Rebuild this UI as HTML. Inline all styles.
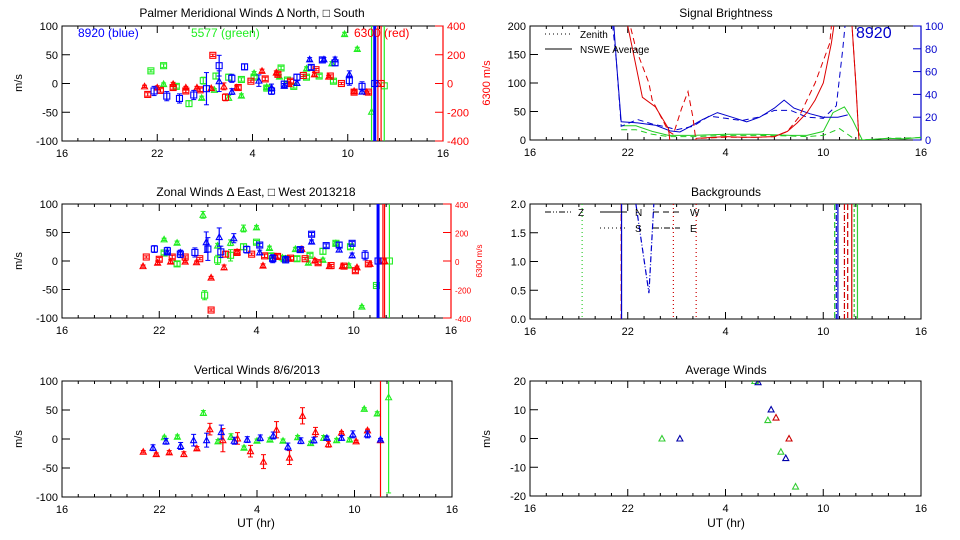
<!DOCTYPE html>
<html><head><meta charset="utf-8"><style>
html,body{margin:0;padding:0;background:#fff;width:960px;height:540px;overflow:hidden;}
svg{display:block;font-family:"Liberation Sans",sans-serif;}
</style></head><body>
<svg id="chart" width="960" height="540" viewBox="0 0 960 540" xmlns="http://www.w3.org/2000/svg"></svg>
<script>
// ---------- DATA (hours 16..40, 24+ = next day UT) ----------
const xTickLabels = ["16","22","4","10","16"];
const xTickHours = [16,22,28,34,40];

// Meridional winds [hour, value, err]
const merBlueSq = [[21.8,-13,8],[22.6,-22,8],[23.4,-26,8],[24.3,-20,8],[25.1,-9,28],[25.9,31,18],[26.7,9,7],[27.5,29,5],[29.2,-13,6],[30.0,-1,5],[30.8,11,5],[31.7,28,4],[32.4,41,3],[33.2,36,5],[34.1,5,8],[34.9,-5,8],[35.7,0,500]];
const merBlueTri = [[25.9,4,18],[26.7,-14,5],[28.4,5,10],[29.2,-7,6],[30.0,-4,4],[30.8,1,4],[31.6,42,3],[32.5,42,3],[33.2,42,4],[34.1,16,6],[34.9,-14,4]];
const merRedSq = [[21.4,-19,3],[22.2,-12,3],[23.0,-7,3],[23.8,-13,3],[24.7,-11,3],[25.5,49,2],[26.3,-24,6],[27.1,-7,3],[27.9,4,2],[28.8,8,3],[29.6,16,3],[30.4,4,3],[31.2,14,2],[32.0,24,2],[32.9,13,2],[33.6,0,2],[34.4,-15,3],[35.3,-15,2],[36.1,0,500]];
const merRedTri = [[21.2,-5,2],[22.0,-7,3],[23.0,-1,3],[23.8,-7,2],[24.5,-7,2],[25.4,-8,2],[26.2,-5,6],[27.0,-7,3],[28.6,22,3],[29.5,19,3],[30.3,-1,3],[31.9,16,3],[32.8,12,2],[34.4,-13,2],[35.2,-15,2],[35.9,0,500]];
const merGreenSq = [[21.6,22,2],[22.4,31,3],[23.2,-5,3],[24.0,-35,5],[24.9,5,6],[25.7,13,5],[26.5,11,5],[27.3,7,3],[28.1,11,3],[28.9,-8,3],[29.8,27,3],[30.2,6,3],[30.6,-5,3],[31.4,11,3],[32.2,13,3],[33.1,4,3],[36.3,-4,500]];
const merGreenTri = [[22.4,-1,2],[24.8,-25,3],[25.6,-11,2],[26.5,-25,4],[27.3,-21,3],[28.1,18,3],[28.9,-6,3],[29.7,12,3],[31.4,26,3],[33.0,35,3],[33.8,86,3],[34.6,60,3],[35.5,-49,500]];

// Zonal winds
const zonBlueSq = [[21.7,21,6],[22.5,18,6],[23.3,12,6],[24.2,15,8],[25.0,21,20],[25.8,16,10],[27.4,20,6],[28.2,28,3],[29.0,4,7],[29.8,2,5],[30.7,20,5],[31.4,47,3],[32.3,27,3],[33.1,28,5],[33.9,31,3],[34.7,10,8],[35.5,0,500]];
const zonBlueTri = [[22.5,15,4],[23.3,15,4],[24.9,33,18],[25.7,42,16],[26.6,40,8],[28.2,15,4],[29.0,5,5],[29.8,4,4],[30.7,20,4],[31.4,34,3],[33.1,20,4],[33.9,10,4]];
const zonRedSq = [[21.2,7,2],[22.0,3,3],[22.8,7,3],[23.6,7,2],[24.5,4,2],[25.2,-86,2],[26.1,12,5],[26.8,15,3],[27.7,12,2],[28.5,9,3],[29.3,8,3],[30.1,5,3],[31.0,4,2],[31.8,-3,3],[32.6,-8,2],[33.4,-9,3],[34.1,-17,3],[34.9,-5,2],[35.8,0,500]];
const zonRedTri = [[21.0,-9,2],[21.9,-3,3],[22.7,-1,3],[23.6,-1,2],[24.3,-2,2],[25.2,-29,2],[26.0,-11,4],[26.8,16,3],[28.4,-8,3],[29.2,8,3],[30.0,4,3],[30.8,21,3],[31.6,1,3],[32.5,-9,2],[33.3,-9,2],[34.2,-11,2],[35.0,-5,2],[35.9,0,500]];
const zonGreenSq = [[22.3,14,3],[23.1,-5,4],[24.8,-60,8],[25.6,2,8],[26.4,10,10],[27.2,25,5],[28.0,33,3],[28.9,9,4],[29.7,4,4],[30.5,4,4],[31.3,10,3],[32.1,17,5],[32.9,31,3],[33.8,25,4],[35.4,-43,2],[36.2,0,500]];
const zonGreenTri = [[22.3,38,2],[23.1,32,3],[24.7,81,6],[25.6,27,4],[26.4,32,5],[27.2,57,6],[28.0,59,3],[28.8,23,3],[29.6,6,3],[30.4,21,3],[31.2,-3,3],[32.1,2,3],[32.9,31,3],[33.7,-8,3],[34.5,-80,2]];

// Vertical winds
const verRedTri = [[21.0,-22,2],[21.8,-26,2],[22.6,-23,3],[23.5,-26,4],[24.3,-16,3],[25.1,17,10],[25.9,-2,20],[26.8,1,10],[27.6,-21,10],[28.4,-39,12],[29.2,16,14],[30.0,-32,12],[30.8,40,14],[31.6,12,8],[32.4,-9,5],[33.2,11,2],[34.1,-4,2],[34.8,15,2],[35.6,-2,500]];
const verBlueTri = [[21.6,-15,5],[22.4,-4,5],[23.3,-12,6],[24.1,-2,10],[24.9,-2,12],[25.8,12,12],[26.6,-3,6],[27.4,-1,5],[28.2,2,5],[29.0,6,6],[29.9,-13,6],[30.7,-3,5],[31.5,-2,5],[32.3,2,3],[33.2,2,4],[33.9,8,6],[34.8,8,6],[35.6,-1,2]];
const verGreenTri = [[22.3,3,2],[23.1,4,3],[24.7,45,4],[25.6,-4,3],[26.4,4,5],[27.2,-15,3],[28.0,-3,3],[28.8,-1,3],[29.6,-3,3],[30.5,3,3],[31.3,-7,3],[32.1,2,4],[32.9,-2,3],[33.7,-1,3],[34.6,52,2],[35.4,44,3],[36.1,72,165]];

// Average winds [hour, value]
const avgGreen = [[24.1,0],[29.8,20],[30.6,6.4],[31.4,-4.6],[32.3,-16.7]];
const avgBlue = [[25.2,0],[30.0,19.6],[30.8,10.1],[31.7,-6.8]];
const avgRed = [[31.1,7.3],[31.9,0]];

// Signal brightness [hour, value]
const sigRedSolid = [[21.9,230],[22.0,200],[22.9,75],[23.7,58],[24.5,20],[24.6,-5],[26.1,-5],[26.2,3],[28,6],[29,5],[30,5],[31,6],[31.8,15],[32.4,30],[33,48],[33.5,70],[34,100],[34.5,170],[34.8,230],[35.7,230],[36.0,100],[36.2,-5]];
const sigRedDash = [[21.9,230],[22.5,160],[23.3,100],[23.5,70],[24.5,15],[24.8,10],[25.3,55],[25.7,85],[26.0,40],[26.2,-5],[26.4,3],[28,5],[30,5],[31,6],[31.8,15],[32.5,40],[33.5,100],[34.4,170],[34.6,230],[35.7,230],[36.0,100],[36.2,-5]];
const sigBlueSolid = [[21.1,110],[21.3,70],[21.6,16],[22.6,15],[23.7,13],[24.6,8],[25.2,7],[25.6,10],[26.6,18],[27.5,24],[28.4,20],[29.3,16],[30.1,20],[31.0,28],[31.6,35],[32.2,28],[33.2,23],[34.0,20],[34.9,20],[35.5,22]];
const sigBlueDash = [[21.0,110],[21.3,70],[21.6,12],[22.6,18],[23.5,14],[24.5,11],[25.0,9],[26.0,12],[27.0,21],[28.0,19],[29.0,17],[30.0,20],[31.0,26],[32.0,26],[33.0,20],[34.0,19],[34.8,30],[35.2,80],[35.4,110]];
const sigGreenSolid = [[21.6,25],[22.5,25],[23.5,15],[24.5,8],[26,8],[28,10],[30,10],[32,8],[33,8],[34,15],[34.6,48],[35.3,58],[35.8,35],[36.4,0],[37,1],[38,3],[39,2],[40,5]];
const sigGreenDash = [[21.6,18],[22.5,18],[23.5,10],[24.5,6],[26,6],[28,8],[30,8],[32,7],[33,6],[34,8],[35,20],[35.4,12],[36,0],[37,1],[38,3],[40,4]];

// Backgrounds: vertical lines
const bgHours = [19.2,21.6,21.62,24.8,26.2,34.7,34.8,34.9,35.3,35.5,35.75,35.9,36.1];
const bgColors = ["#33cc33","#cc0000","#0000cc","#cc0000","#cc0000","#33cc33","#0000cc","#0000cc","#cc0000","#cc0000","#cc0000","#33cc33","#33cc33"];
const bgDash = ["1,3","7,3","","1,3","1,3","6,3","6,2,1,2","","6,2,1,2","6,3","","3,2","" ];
const bgVHours = [22.5,23.3,23.6];
const bgVValues = [2.0,0.45,2.0];

// ---------- RENDER ----------
const NS="http://www.w3.org/2000/svg";
const svg=document.getElementById('chart');
function el(tag,attrs,parent){const e=document.createElementNS(NS,tag);for(const k in attrs)e.setAttribute(k,attrs[k]);(parent||svg).appendChild(e);return e;}
function txt(s,x,y,attrs,parent){const t=el('text',Object.assign({x:x,y:y,'font-size':11,fill:'#000'},attrs),parent);t.textContent=s;return t;}
function clampY(p,y){return Math.max(p.T,Math.min(p.B,y));}

function panel(name,L,R,T,B,ymin,ymax,yticks,ylabels,clipId){
  const g=el('g',{});
  
  
  const xs=h=>L+(h-16)/24*(R-L);
  const ys=v=>B-(v-ymin)/(ymax-ymin)*(B-T);
  const cp=el('clipPath',{id:clipId},g);el('rect',{x:L,y:T,width:R-L,height:B-T},cp);
  const box=el('rect',{x:L,y:T,width:R-L,height:B-T,fill:'none',stroke:'#000','stroke-width':1},g);
  
  
  for(let h=16;h<=40;h++){
    const major=xTickHours.indexOf(h)>=0;const len=major?7:3;const x=xs(h);
    el('line',{x1:x,y1:B,x2:x,y2:B-len,stroke:'#000'},g);
    el('line',{x1:x,y1:T,x2:x,y2:T+len,stroke:'#000'},g);
  }
  xTickHours.forEach((h,i)=>{const t=txt(xTickLabels[i],xs(h),B+16,{'text-anchor':'middle'},g);
    
    });
  yticks.forEach((v,i)=>{const y=ys(v);el('line',{x1:L,y1:y,x2:L+8,y2:y,stroke:'#000'},g);
    const t=txt(ylabels[i],L-4,y+4,{'text-anchor':'end'},g);
    
    });
  return {g,xs,ys,L,R,T,B,clip:'url(#'+clipId+')'};
}
function rightAxis(p,vals,labels,color,fs,vmin,vmax){
  const ys=v=>p.B-(v-vmin)/(vmax-vmin)*(p.B-p.T);
  el('line',{x1:p.R,y1:p.T,x2:p.R,y2:p.B,stroke:color,'stroke-width':1.2},p.g);
  vals.forEach((v,i)=>{const y=ys(v);el('line',{x1:p.R,y1:y,x2:p.R-8,y2:y,stroke:color},p.g);
    const t=txt(labels[i],p.R+4,y+4,{fill:color,'font-size':fs},p.g);
    
    });
}
function marker(p,h,v,shape,color,g){
  const x=p.xs(h),y=p.ys(v);
  if(shape==='tri') el('polygon',{points:`${x-3},${y+2.5} ${x+3},${y+2.5} ${x},${y-3}`,fill:'none',stroke:color,'stroke-width':1.1},g);
  else el('rect',{x:x-3,y:y-3,width:6,height:6,fill:'none',stroke:color,'stroke-width':1.1},g);
}
function series(p,data,shape,color,name){
  const g=el('g',{'clip-path':p.clip},p.g);
  
  
  data.forEach(d=>{
    const x=p.xs(d[0]);
    if(d[2]!==undefined){
      const y1r=p.ys(d[1]+d[2]),y2r=p.ys(d[1]-d[2]);
      const y1=clampY(p,y1r),y2=clampY(p,y2r);const big=d[2]>=200;
      el('line',{x1:x,y1:y1,x2:x,y2:y2,stroke:color,'stroke-width':big&&color==='#0000ff'?3:1.2},g);
      if(y1===y1r&&!big)el('line',{x1:x-2.5,y1:y1,x2:x+2.5,y2:y1,stroke:color,'stroke-width':1},g);
      if(y2===y2r&&!big)el('line',{x1:x-2.5,y1:y2,x2:x+2.5,y2:y2,stroke:color,'stroke-width':1},g);
    }
    marker(p,d[0],d[1],shape,color,g);
  });
}
function title(s,x,y,name){const t=txt(s,x,y,{'text-anchor':'middle','font-size':12});
  
  }
function ylab(s,x,y,color,fs,name){const t=txt(s,x,y,{'text-anchor':'middle','font-size':fs||11,fill:color||'#000',transform:`rotate(-90 ${x} ${y})`});
  
  }

const B='#0000ff',G='#22ee22',Rd='#ff0000';
const ms=["100","50","0","-50","-100"],mv=[100,50,0,-50,-100];

// Panel 1 meridional
const p1=panel('meridional-winds-panel',62,443,26,141,-100,100,mv,ms,'c1');
rightAxis(p1,[400,200,0,-200,-400],["400","200","0","-200","-400"],Rd,11,-400,400);
series(p1,merGreenSq,'sq',G,'mer-green-south');series(p1,merGreenTri,'tri',G,'mer-green-north');
series(p1,merRedSq,'sq',Rd,'mer-red-south');series(p1,merRedTri,'tri',Rd,'mer-red-north');
series(p1,merBlueSq,'sq',B,'mer-blue-south');series(p1,merBlueTri,'tri',B,'mer-blue-north');
title('Palmer Meridional Winds \u0394 North, \u25A1 South',252,17,'meridional-title');
ylab('m/s',22,83,'#000',11,'mer-y-title');ylab('6300 m/s',490,83,Rd,11,'mer-right-y-title');
{let t=txt('8920 (blue)',78,37,{fill:B,'font-size':12});
t=txt('5577 (green)',191,37,{fill:G,'font-size':12});
t=txt('6300 (red)',354,37,{fill:Rd,'font-size':12});}

// Panel 2 zonal
const p2=panel('zonal-winds-panel',62,451,204,318,-100,100,mv,ms,'c2');
rightAxis(p2,[400,200,0,-200,-400],["400","200","0","-200","-400"],Rd,8,-400,400);
series(p2,zonGreenSq,'sq',G,'zon-green-west');series(p2,zonGreenTri,'tri',G,'zon-green-east');
series(p2,zonRedSq,'sq',Rd,'zon-red-west');series(p2,zonRedTri,'tri',Rd,'zon-red-east');
series(p2,zonBlueSq,'sq',B,'zon-blue-west');series(p2,zonBlueTri,'tri',B,'zon-blue-east');
title('Zonal Winds \u0394 East, \u25A1 West 2013218',256,196,'zonal-title');
ylab('m/s',22,261,'#000',11,'zon-y-title');ylab('6300 m/s',482,261,Rd,8,'zon-right-y-title');

// Panel 3 vertical
const p3=panel('vertical-winds-panel',62,452,381,497,-100,100,mv,ms,'c3');
series(p3,verGreenTri,'tri',G,'ver-green');series(p3,verRedTri,'tri',Rd,'ver-red');series(p3,verBlueTri,'tri',B,'ver-blue');
title('Vertical Winds 8/6/2013',257,374,'vertical-title');
ylab('m/s',22,439,'#000',11,'ver-y-title');
{const t=txt('UT (hr)',256,527,{'text-anchor':'middle','font-size':12});}

// Panel 4 signal brightness
const p4=panel('signal-brightness-panel',530,921,26,140,0,200,[200,150,100,50,0],["200","150","100","50","0"],'c4');
rightAxis(p4,[100,80,60,40,20,0],["100","80","60","40","20","0"],'#0000cc',11,0,100);
function line(p,data,color,dash,scale,name){
  const g=el('g',{'clip-path':p.clip},p.g);
  
  
  const pts=data.map(d=>p.xs(d[0]).toFixed(1)+','+p.ys(d[1]*scale).toFixed(1)).join(' ');
  el('polyline',{points:pts,fill:'none',stroke:color,'stroke-width':1,'stroke-dasharray':dash},g);
}
line(p4,sigGreenSolid,'#22cc22','',1,'sig-green-avg');line(p4,sigGreenDash,'#22cc22','6,4',1,'sig-green-zenith');
line(p4,sigBlueSolid,'#0000cc','',2,'sig-blue-avg');line(p4,sigBlueDash,'#0000cc','6,4',2,'sig-blue-zenith');
line(p4,sigRedSolid,'#dd0000','',1,'sig-red-avg');line(p4,sigRedDash,'#dd0000','6,4',1,'sig-red-zenith');
title('Signal Brightness',726,17,'brightness-title');
el('line',{x1:545,y1:34,x2:572,y2:34,stroke:'#000','stroke-dasharray':'1,3'});
el('line',{x1:545,y1:49,x2:572,y2:49,stroke:'#000'});
{let t=txt('Zenith',580,38,{'font-size':10});
t=txt('NSWE Average',580,53,{'font-size':10});
t=txt('8920',856,38,{'font-size':16,fill:'#0000cc'});}

// Panel 5 backgrounds
const p5=panel('backgrounds-panel',530,921,204,319,0,2,[2,1.5,1,0.5,0],["2.0","1.5","1.0","0.5","0.0"],'c5');
{const g=el('g',{'clip-path':p5.clip},p5.g);


bgHours.forEach((h,i)=>{const x=p5.xs(h);el('line',{x1:x,y1:p5.T,x2:x,y2:p5.B,stroke:bgColors[i],'stroke-width':1.2,'stroke-dasharray':bgDash[i]},g);});
const pts=bgVHours.map((h,i)=>p5.xs(h)+','+p5.ys(bgVValues[i])).join(' ');
el('polyline',{points:pts,fill:'none',stroke:'#0000cc','stroke-width':1.2,'stroke-dasharray':'6,2,1,2'},g);}
title('Backgrounds',726,196,'backgrounds-title');
[[545,212,'6,2,1,2,1,2','Z',578],[600,212,'','N',635],[653,212,'6,4','W',690],[600,228,'1,3','S',635],[653,228,'6,2,1,2','E',690]].forEach(l=>{
  el('line',{x1:l[0],y1:l[1],x2:l[0]+27,y2:l[1],stroke:'#000','stroke-dasharray':l[2]});
  const t=txt(l[3],l[4],l[1]+4,{'font-size':10});
  
  
});

// Panel 6 average winds
const p6=panel('average-winds-panel',530,921,381,496,-20,20,[20,10,0,-10,-20],["20","10","0","-10","-20"],'c6');
series(p6,avgGreen,'tri','#33cc33','avg-green');series(p6,avgBlue,'tri','#0000aa','avg-blue');series(p6,avgRed,'tri','#cc0000','avg-red');
title('Average Winds',726,374,'average-title');
ylab('m/s',490,439,'#000',11,'avg-y-title');
{const t=txt('UT (hr)',726,527,{'text-anchor':'middle','font-size':12});}
</script>
</body></html>
